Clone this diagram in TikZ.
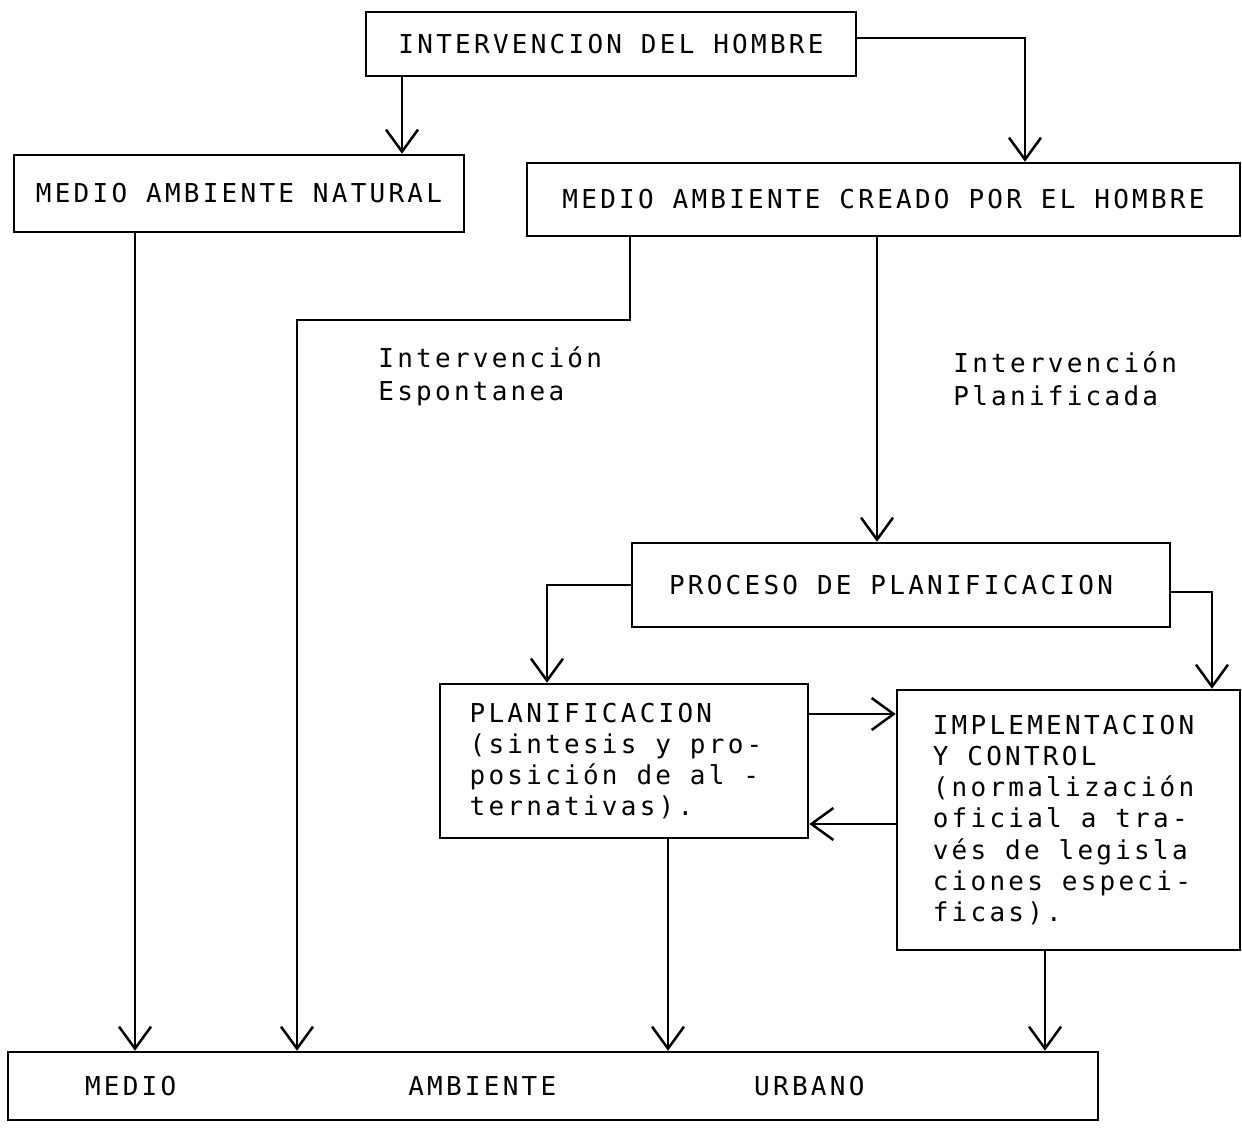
\documentclass[tikz,border=0pt]{standalone}
\usepackage{fontspec}
\newfontfamily\monof[LetterSpace=12.5]{DejaVu Sans Mono}
\usetikzlibrary{arrows.meta}
\newcommand{\dotfont}{\monof\fontsize{13}{15.6}\selectfont}
\newcommand{\lblfont}{\monof\fontsize{13}{16.5}\selectfont}
\tikzset{
  box/.style={draw, line width=1.25pt, inner sep=0pt, font=\dotfont, align=left},
  lbl/.style={inner sep=0pt, font=\lblfont, align=left, anchor=north west},
  conn/.style={line width=1.25pt},
  arr/.style={conn, -{Straight Barb[length=11pt, width=16pt, line width=1.25pt]}}
}
\begin{document}
\begin{tikzpicture}[x=0.5pt, y=-0.5pt]
\useasboundingbox (0,0) rectangle (1242,1134);
% boxes
\node[box, minimum width=245pt, minimum height=32pt] (b1) at (611,44) {INTERVENCION DEL HOMBRE};
\node[box, minimum width=225pt, minimum height=38.5pt] (b2) at (239,193.5) {MEDIO AMBIENTE NATURAL};
\node[box, minimum width=356.5pt, minimum height=36.5pt] (b3) at (883.5,199.5) {MEDIO AMBIENTE CREADO POR EL HOMBRE};
\node[box, minimum width=269pt, minimum height=42pt] (proc) at (901,585) {PROCESO DE PLANIFICACION\rule{10pt}{0pt}};
\node[box, minimum width=184pt, minimum height=77pt] (plan) at (624,761) {PLANIFICACION\\(sintesis y pro-\rule{8pt}{0pt}\\posición de al -\\ternativas).};
\node[box, minimum width=171.5pt, minimum height=130pt] (impl) at (1068.5,820) {IMPLEMENTACION\\Y CONTROL\\(normalización\rule{5pt}{0pt}\\oficial a tra-\\vés de legisla\\ciones especi-\\ficas).};
\node[box, minimum height=34pt, text width=468pt, inner xsep=38.5pt] (bot) at (553,1086) {MEDIO\hspace{116pt}AMBIENTE\hspace{99pt}URBANO};
% labels
\node[lbl] (l1) at (378,346) {Intervención\\Espontanea};
\node[lbl] (l2) at (953,351) {Intervención\\Planificada};
% connectors
\draw[arr] (b1.south -| 402,0) -- (b2.north -| 402,0);
\draw[arr] (b1.east |- 0,38) -| (b3.north -| 1025,0);
\draw[arr] (b2.south -| 135,0) -- (bot.north -| 135,0);
\draw[arr] (b3.south -| 630,0) |- (297,320) -- (bot.north -| 297,0);
\draw[arr] (b3.south -| 877,0) -- (proc.north -| 877,0);
\draw[arr] (proc.west |- 0,585) -| (plan.north -| 547,0);
\draw[arr] (proc.east |- 0,592) -| (impl.north -| 1212,0);
\draw[arr] (plan.east |- 0,714) -- (impl.west |- 0,714);
\draw[arr] (impl.west |- 0,824) -- (plan.east |- 0,824);
\draw[arr] (plan.south -| 668,0) -- (bot.north -| 668,0);
\draw[arr] (impl.south -| 1045,0) -- (bot.north -| 1045,0);
\end{tikzpicture}
\end{document}
